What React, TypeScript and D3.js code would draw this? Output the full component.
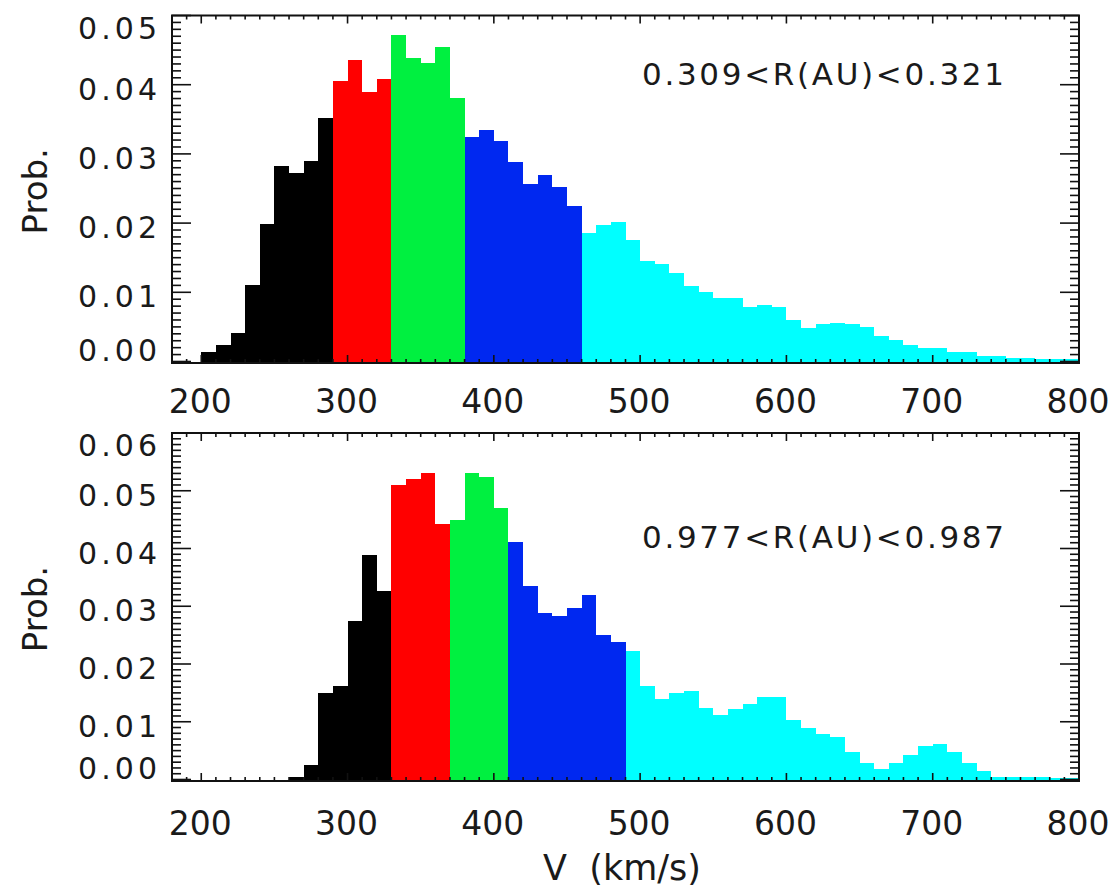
import React from 'react';
import * as d3 from 'd3';

const binWidth = 10;

const topStart = 200;
const topValues = [
  0.0014, 0.0024, 0.0041, 0.0110, 0.0198, 0.0283, 0.0272, 0.0290, 0.0352,
  0.0405, 0.0436, 0.0390, 0.0408,
  0.0472, 0.0439, 0.0431, 0.0455, 0.0381,
  0.0324, 0.0334, 0.0318, 0.0288, 0.0257, 0.0269, 0.0252, 0.0224,
  0.0186, 0.0197, 0.0202, 0.0175, 0.0145, 0.0141, 0.0128, 0.0109, 0.0101, 0.0092,
  0.0092, 0.0079, 0.0081, 0.0079, 0.0060, 0.0048, 0.0054, 0.0056, 0.0054, 0.0050,
  0.0037, 0.0031, 0.0024, 0.0019, 0.0019, 0.0014, 0.0014, 0.0008, 0.0008, 0.0005,
  0.0005, 0.0003, 0.0003, 0.0003,
];
const topBreaks = [290, 330, 380, 460];
const topLabel = '0.309<R(AU)<0.321';

const bottomStart = 260;
const bottomValues = [
  0.0005, 0.0025, 0.0150, 0.0162, 0.0274, 0.0389, 0.0326,
  0.0510, 0.0520, 0.0530, 0.0442,
  0.0450, 0.0531, 0.0524, 0.0470,
  0.0412, 0.0335, 0.0289, 0.0283, 0.0297, 0.0320, 0.0251, 0.0238,
  0.0223, 0.0162, 0.0140, 0.0149, 0.0153, 0.0123, 0.0112, 0.0122, 0.0131, 0.0142,
  0.0142, 0.0103, 0.0090, 0.0078, 0.0074, 0.0048, 0.0028, 0.0018, 0.0028, 0.0042,
  0.0058, 0.0061, 0.0048, 0.0028, 0.0014, 0.0005, 0.0004, 0.0004, 0.0004, 0.0002,
  0.0002,
];
const bottomBreaks = [330, 370, 410, 490];
const bottomLabel = '0.977<R(AU)<0.987';

const segmentColors = ['#000000', '#ff0000', '#00f040', '#0028f0', '#00ffff'];

const xDomain = [180, 800];
const xTickLabels = [200, 300, 400, 500, 600, 700, 800];
const topYTicks = [0, 0.01, 0.02, 0.03, 0.04, 0.05];
const bottomYTicks = [0, 0.01, 0.02, 0.03, 0.04, 0.05, 0.06];
const xTitle = 'V  (km/s)';
const yTitle = 'Prob.';

const FONT = "'DejaVu Sans', sans-serif";
const TXT = '#1a1a1a';

type PanelProps = {
  top: number;
  bottom: number;
  start: number;
  values: number[];
  breaks: number[];
  yTicks: number[];
  label: string;
  labelBaseline: number;
  xLabelBaseline: number;
};

function Panel({ top, bottom, start, values, breaks, yTicks, label, labelBaseline, xLabelBaseline }: PanelProps) {
  const left = 172;
  const right = 1079;
  const yMax = yTicks[yTicks.length - 1];
  const x = d3.scaleLinear().domain(xDomain).range([left, right]);
  const y = d3.scaleLinear().domain([0, yMax]).range([bottom - 1.5, top]);

  const bins = values.map((v, i) => {
    const x0 = start + i * binWidth;
    const seg = breaks.filter((b) => b <= x0).length;
    return { x0, v, seg };
  });
  const groups = d3.groups(bins, (d) => d.seg);
  const area = d3
    .area<{ x: number; v: number }>()
    .x((d) => x(d.x))
    .y0(y(0))
    .y1((d) => y(d.v))
    .curve(d3.curveStepAfter);

  const xMinor = d3.range(190, 801, 10);
  const yMinor = d3.range(0, Math.round(yMax * 1000) + 1).map((k) => k / 1000);

  return (
    <g>
      {groups.map(([seg, arr]) => {
        const pts = arr.map((d) => ({ x: d.x0, v: d.v }));
        const last = arr[arr.length - 1];
        pts.push({ x: last.x0 + binWidth, v: last.v });
        return (
          <path key={seg} d={area(pts) || ''} fill={segmentColors[seg]} shapeRendering="crispEdges" />
        );
      })}
      {/* x ticks */}
      {xMinor.map((t) => {
        const major = t % 100 === 0;
        const len = major ? 8 : 4;
        return (
          <g key={'x' + t} stroke="#111" strokeWidth={1.6}>
            <line x1={x(t)} x2={x(t)} y1={bottom} y2={bottom - len} />
            <line x1={x(t)} x2={x(t)} y1={top} y2={top + len} />
          </g>
        );
      })}
      {/* y ticks */}
      {yMinor.map((t, i) => {
        const major = i % 10 === 0;
        const len = major ? 19 : 9;
        return (
          <g key={'y' + i} stroke="#111" strokeWidth={1.6}>
            <line x1={left} x2={left + len} y1={y(t)} y2={y(t)} />
            <line x1={right} x2={right - len} y1={y(t)} y2={y(t)} />
          </g>
        );
      })}
      <rect x={left} y={top} width={right - left} height={bottom - top} fill="none" stroke="#111" strokeWidth={2} />
      {/* y tick labels */}
      {yTicks.map((t) => {
        const by = Math.max(top + 23, Math.min(bottom - 2, y(t) + 15));
        return (
          <text key={'yl' + t} x={157} y={by} textAnchor="end" fontFamily={FONT} fontSize={30}
            fill={TXT} textLength={79} lengthAdjust="spacing">
            {t.toFixed(2)}
          </text>
        );
      })}
      {/* x tick labels */}
      {xTickLabels.map((t) => (
        <text key={'xl' + t} x={x(t) - 1} y={xLabelBaseline} textAnchor="middle" fontFamily={FONT}
          fontSize={33} fill={TXT}>
          {t}
        </text>
      ))}
      <text x={642} y={labelBaseline} fontFamily={FONT} fontSize={31} fill={TXT} textLength={362}
        lengthAdjust="spacing">
        {label}
      </text>
      <text transform={`translate(47,${(top + bottom) / 2 + 2}) rotate(-90)`} textAnchor="middle"
        fontFamily={FONT} fontSize={34} fill={TXT}>
        {yTitle}
      </text>
    </g>
  );
}

export default function App() {
  return (
    <svg width={1120} height={892} style={{ position: 'absolute', left: 0, top: 0, background: '#fff' }}>
      <rect x={0} y={0} width={1120} height={892} fill="#fff" />
      <Panel top={15.5} bottom={363} start={topStart} values={topValues} breaks={topBreaks}
        yTicks={topYTicks} label={topLabel} labelBaseline={85} xLabelBaseline={413} />
      <Panel top={433} bottom={781} start={bottomStart} values={bottomValues} breaks={bottomBreaks}
        yTicks={bottomYTicks} label={bottomLabel} labelBaseline={548} xLabelBaseline={835} />
      <text x={622} y={880} textAnchor="middle" fontFamily={FONT} fontSize={35} fill={TXT}
        style={{ whiteSpace: 'pre' }}>
        {xTitle}
      </text>
    </svg>
  );
}
